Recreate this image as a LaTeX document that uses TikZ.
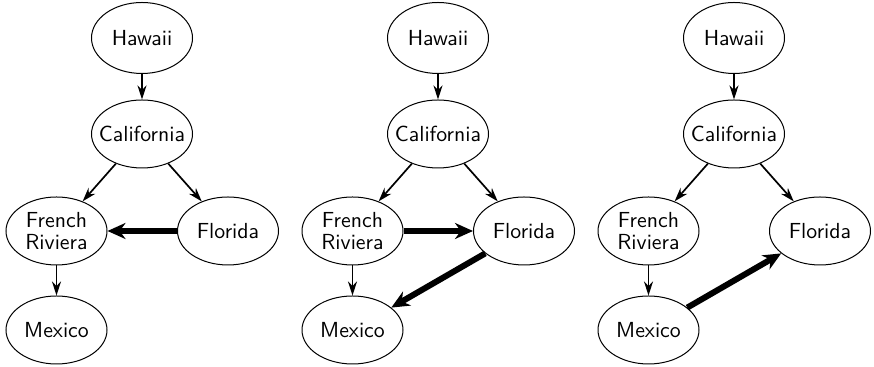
\documentclass[tikz,border=0pt]{standalone}
\usetikzlibrary{shapes.geometric,arrows.meta}
\tikzset{
  city/.style={draw, line width=0.5pt, ellipse, inner xsep=-4.5pt, inner ysep=-4pt,
    minimum width=50.5pt, minimum height=34pt, align=center,
    font=\sffamily\fontsize{10.9pt}{10.7pt}\selectfont},
  edge/.style={->, line width=0.85pt},
  heavy/.style={-{Stealth[length=9pt,width=8pt]}, line width=3pt},
}
\begin{document}
\begin{tikzpicture}[x=1pt, y=1pt, >={Stealth[length=7pt,width=4.5pt]}]
  \useasboundingbox (0,0) rectangle (437,183.5);
  % the three trips, same cities
  \foreach \g/\dx in {1/0,2/148,3/296}{
    \node[city, minimum height=35.5pt] (haw\g) at (71+\dx,164.5) {Hawaii};
    \node[city] (cal\g) at (71+\dx,116.5) {California};
    \node[city] (fre\g) at (28.25+\dx,68) {French\\Riviera};
    \node[city] (flo\g) at (114+\dx,68) {Florida};
    \node[city] (mex\g) at (28.25+\dx,18.5) {Mexico};
    \draw[edge] (haw\g) -- (cal\g);
    \draw[edge] (cal\g) -- (fre\g);
    \draw[edge] (cal\g) -- (flo\g);
    \draw[edge] (fre\g) -- (mex\g);
  }
  % the heavy legs
  \draw[heavy] (flo1) -- (fre1);
  \draw[heavy] (fre2) -- (flo2);
  \draw[heavy] (flo2) -- (mex2);
  \draw[heavy] (mex3) -- (flo3);
\end{tikzpicture}
\end{document}
